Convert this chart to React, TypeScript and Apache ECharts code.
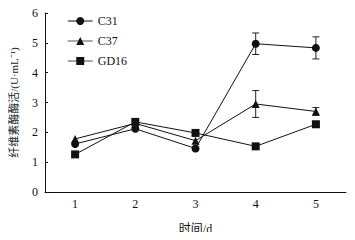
import React, { useEffect, useRef } from "react";
import * as echarts from "echarts";

const days = ["1", "2", "3", "4", "5"];
const c31 = [1.61, 2.12, 1.46, 4.97, 4.83];
const c37 = [1.78, 2.3, 1.72, 2.95, 2.7];
const gd16 = [1.26, 2.35, 1.98, 1.53, 2.27];
const c31Err = [0, 0, 0, 0.36, 0.37];
const c37Err = [0, 0, 0, 0.45, 0.13];
const gd16Err = [0, 0, 0, 0, 0];

const FONT = "'Liberation Serif', 'Noto Sans CJK SC', serif";

function errSeries(name: string, vals: number[], errs: number[]) {
  const data = vals.map((v, i) => [i, v - errs[i], v + errs[i]]);
  return {
    type: "custom",
    name: name + "-err",
    z: 1,
    silent: true,
    data,
    renderItem: (params: any, api: any) => {
      const x = api.value(0);
      const lo = api.coord([x, api.value(1)]);
      const hi = api.coord([x, api.value(2)]);
      if (Math.abs(hi[1] - lo[1]) < 0.5) return { type: "group", children: [] };
      const w = 3.5;
      const style = { stroke: "#222", lineWidth: 1 };
      return {
        type: "group",
        children: [
          { type: "line", shape: { x1: lo[0], y1: lo[1], x2: hi[0], y2: hi[1] }, style },
          { type: "line", shape: { x1: lo[0] - w, y1: lo[1], x2: lo[0] + w, y2: lo[1] }, style },
          { type: "line", shape: { x1: hi[0] - w, y1: hi[1], x2: hi[0] + w, y2: hi[1] }, style },
        ],
      };
    },
  };
}

export default function App() {
  const ref = useRef<HTMLDivElement>(null);
  useEffect(() => {
    const chart = echarts.init(ref.current!, null, { renderer: "svg" });
    const lineSeries = (name: string, data: number[], symbol: string, size: number) => ({
      type: "line",
      name,
      data,
      symbol,
      symbolSize: size,
      z: 3,
      lineStyle: { color: "#111", width: 1 },
      itemStyle: { color: "#111" },
    });
    chart.setOption({
      animation: false,
      backgroundColor: "#fff",
      textStyle: { fontFamily: FONT },
      grid: { left: 44, right: 9, top: 13, bottom: 43 },
      legend: {
        orient: "vertical",
        left: 62,
        top: 10,
        itemWidth: 25,
        itemHeight: 10,
        itemGap: 8,
        textStyle: { fontFamily: FONT, fontSize: 12, color: "#111" },
        data: [
          { name: "C31", itemStyle: { color: "#111" }, lineStyle: { color: "#111", width: 1 } },
          { name: "C37", itemStyle: { color: "#111" }, lineStyle: { color: "#555", width: 1 } },
          { name: "GD16", itemStyle: { color: "#111" }, lineStyle: { color: "#888", width: 1.5 } },
        ],
      },
      xAxis: {
        type: "category",
        data: days,
        boundaryGap: true,
        name: "时间/d",
        nameLocation: "middle",
        nameGap: 31,
        nameTextStyle: { fontFamily: FONT, fontSize: 12, color: "#111" },
        axisLine: { lineStyle: { color: "#111", width: 1 } },
        axisTick: { inside: true, length: 3, lineStyle: { color: "#111" } },
        axisLabel: { fontFamily: FONT, fontSize: 12, color: "#111", margin: 6 },
        splitLine: { show: false },
      },
      yAxis: {
        type: "value",
        min: 0,
        max: 6,
        interval: 1,
        name: "纤维素酶酶活/(U·mL⁻¹)",
        nameLocation: "middle",
        nameGap: 26,
        nameTextStyle: { fontFamily: FONT, fontSize: 11, color: "#222" },
        axisLine: { show: true, lineStyle: { color: "#111", width: 1 } },
        axisTick: { show: true, inside: true, length: 3, lineStyle: { color: "#111" } },
        axisLabel: { fontFamily: FONT, fontSize: 12, color: "#111", margin: 7 },
        splitLine: { show: false },
      },
      series: [
        lineSeries("C31", c31, "circle", 8),
        lineSeries("C37", c37, "triangle", 8),
        lineSeries("GD16", gd16, "rect", 8),
        errSeries("C31", c31, c31Err),
        errSeries("C37", c37, c37Err),
        errSeries("GD16", gd16, gd16Err),
      ],
    });
    return () => chart.dispose();
  }, []);
  return <div ref={ref} style={{ width: 355, height: 240, margin: -8 }} />;
}
